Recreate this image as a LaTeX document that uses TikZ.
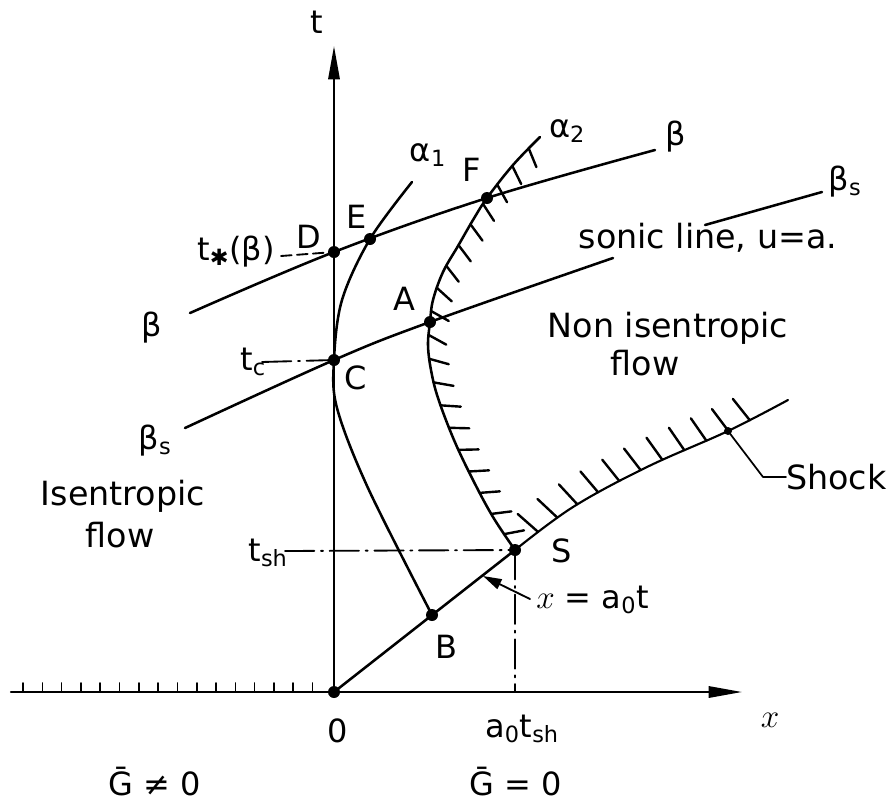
\documentclass[tikz,border=0pt]{standalone}
\usepackage{fontspec}
\setmainfont{DejaVu Sans}
\usetikzlibrary{arrows.meta,decorations.markings}
\begin{document}
\begin{tikzpicture}[x=0.75pt,y=-0.75pt,
  line cap=round, line join=round,
  curve/.style={line width=1.9pt},
  axisline/.style={line width=1.6pt},
  dot/.style={circle,fill=black,inner sep=0pt,minimum size=9pt},
  smalldot/.style={circle,fill=black,inner sep=0pt,minimum size=6pt},
  lbl/.style={font=\fontsize{24}{28}\selectfont,inner sep=0pt},
  txt/.style={font=\fontsize{25}{30}\selectfont,inner sep=0pt},
  dashdot/.style={line width=1.4pt,dash pattern=on 22pt off 5pt on 1.5pt off 5pt},
  dsh/.style={line width=1.4pt,dash pattern=on 8pt off 4pt},
  alphaticks/.style={postaction={decorate,decoration={markings,
     mark=between positions 12pt and -14pt step 18pt with {\draw[line width=1.8pt] (0pt,0pt) -- (6pt,14pt);}}}},
  shockticks/.style={postaction={decorate,decoration={markings,
     mark=between positions 22pt and 205pt step 18pt with {\draw[line width=1.8pt] (0pt,0pt) -- (-4pt,20pt);}}}},
  axisarrow/.style={-{Triangle[length=25pt,width=8.5pt]}}
]
\useasboundingbox (0,0) rectangle (889,808);

% key points
\coordinate (O) at (334,692);
\coordinate (tTop) at (334,46);
\coordinate (xL) at (11,692);
\coordinate (xR) at (742,692);
\coordinate (D) at (334,252);
\coordinate (E) at (370,239);
\coordinate (F) at (487,198);
\coordinate (A) at (430,322);
\coordinate (C) at (334,360);
\coordinate (S) at (515,550);
\coordinate (B) at (432,615);
\coordinate (Sx) at (515,692);
\coordinate (shk) at (728,431);

% beta lines
\coordinate (bL) at (190,313);
\coordinate (bR) at (655,150);
\coordinate (bsL) at (185,428);
\coordinate (bsR) at (613,258);
\coordinate (sl1) at (705,225);
\coordinate (sl2) at (822,192);

% alpha1 points
\coordinate (a1top) at (412,182);
\coordinate (a1p1) at (342,300);
\coordinate (a1p2) at (337,408);
\coordinate (a1p3) at (368,488);

% alpha2 points
\coordinate (a2top) at (540,137);
\coordinate (a2p1) at (513,165);
\coordinate (a2p2) at (473,220);
\coordinate (a2p3) at (458,246);
\coordinate (a2p4) at (443,272);
\coordinate (a2p5) at (433,300);
\coordinate (a2p6) at (428,345);
\coordinate (a2p7) at (431,370);
\coordinate (a2p8) at (438,398);
\coordinate (a2p9) at (454,440);
\coordinate (a2p10) at (473,480);
\coordinate (a2p11) at (493,517);

% shock points
\coordinate (sh1) at (573,507);
\coordinate (sh2) at (647,467);
\coordinate (shEnd) at (788,400);

% axes
\draw[axisline,axisarrow] (O) -- (tTop);
\draw[axisline,axisarrow] (xL) -- (xR);
\foreach \i in {0,...,15}
  \draw[line width=1.2pt] (23+19.3*\i,692) -- (23+19.3*\i,683);

% beta characteristic
\draw[curve] plot[smooth,tension=0.6] coordinates {(bL) (D) (F) (bR)};
% beta_s characteristic
\draw[curve] plot[smooth,tension=0.6] coordinates {(bsL) (C) (A) (bsR)};
% sonic line leader (beta_s)
\draw[curve] (sl1) -- (sl2);

% alpha1
\draw[curve] plot[smooth,tension=0.55] coordinates {(a1top) (E) (a1p1) (C) (a1p2) (a1p3) (B)};
% alpha2 with hatching
\draw[curve,alphaticks] plot[smooth,tension=0.6] coordinates {(a2top) (a2p1) (F) (a2p2) (a2p3) (a2p4) (a2p5) (A) (a2p6) (a2p7) (a2p8) (a2p9) (a2p10) (a2p11) (S)};

% x = a0 t line and shock
\draw[curve] (O) -- (S);
\draw[line width=1.6pt,shockticks] plot[smooth,tension=0.6] coordinates {(S) (sh1) (sh2) (shk) (shEnd)};

% dashed guide lines
\coordinate (tsEnd) at (281,256);
\coordinate (tcEnd) at (262,362);
\coordinate (tshEnd) at (285,551);
\draw[dsh] (tsEnd) -- (D);
\draw[dashdot] (tcEnd) -- (C);
\draw[dashdot] (tshEnd) -- (S);
\draw[dashdot] (S) -- (Sx);

% arrow to x = a0 t
\coordinate (xa) at (530,599);
\coordinate (xtip) at (483,576);
\draw[line width=1.4pt,-{Triangle[length=14pt,width=8pt]}] (xa) -- (xtip);

% shock leader
\node[txt,anchor=west] (shock) at (786,477) {Shock};
\coordinate (ldk) at (763,477);
\draw[line width=1.3pt] (shk) -- (ldk) -- (shock.west);

% dots
\foreach \p in {D,E,F,A,C,S,B,O} \node[dot] at (\p) {};
\node[smalldot] at (shk) {};

% labels
\node[lbl] (tl) at (317,22) {t};
\node[lbl] (a1l) at (428,155) {α\textsubscript{1}};
\node[lbl] (Fl) at (472,170) {F};
\node[lbl] (a2l) at (567,131) {α\textsubscript{2}};
\node[lbl] (bRl) at (676,137) {β};
\node[lbl] (bsRl) at (845,182) {β\textsubscript{s}};
\node[txt] (sonic) at (708,238) {sonic line, u=a.};
\node[lbl] (El) at (357,217) {E};
\node[lbl] (Dl) at (309,237) {D};
\node[lbl] (tstar) at (236,252) {t\textsubscript{✱}(β)};
\node[lbl] (Al) at (404,299) {A};
\node[lbl] (bLl) at (152,328) {β};
\node[txt] (non) at (668,328) {Non isentropic};
\node[txt] (nonflow) at (645,363) {flow};
\node[lbl] (tcl) at (253,362) {t\textsubscript{c}};
\node[lbl] (Cl) at (356,378) {C};
\node[lbl] (bsLl) at (155,441) {β\textsubscript{s}};
\node[txt] (isen) at (123,496) {Isentropic};
\node[txt] (isflow) at (120,535) {flow};
\node[lbl] (tshl) at (268,553) {t\textsubscript{sh}};
\node[lbl] (Sl) at (562,551) {S};
\node[lbl,anchor=west] (xeq) at (536,600) {$x$ = a\textsubscript{0}t};
\node[lbl] (Bl) at (446,647) {B};
\node[lbl] (Ol) at (338,731) {0};
\node[lbl] (a0tsh) at (522,729) {a\textsubscript{0}t\textsubscript{sh}};
\node[lbl] (xl) at (770,720) {$x$};
\node[lbl] (g1) at (155,782) {Ḡ ≠ 0};
\node[lbl] (g2) at (516,782) {Ḡ = 0};
\end{tikzpicture}
\end{document}
